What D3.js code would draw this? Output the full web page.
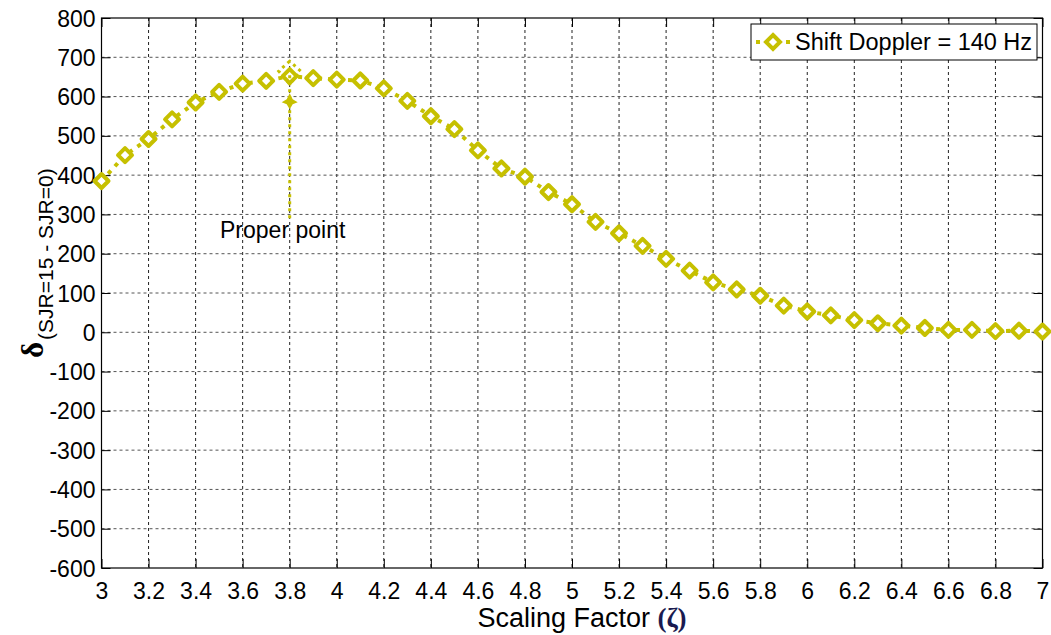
<!DOCTYPE html>
<html>
<head>
<meta charset="utf-8">
<script src="https://cdn.jsdelivr.net/npm/d3@7/dist/d3.min.js"></script>
<style>
  html, body { margin: 0; padding: 0; background: #fff; }
  svg { display: block; font-family: Arial, "Liberation Sans", sans-serif; }
</style>
</head>
<body>
<svg id="chart" width="1051" height="635"></svg>
<script>
// Scaling factor samples and the measured delta for a 140 Hz Doppler shift
const scalingFactor = [3.0, 3.1, 3.2, 3.3, 3.4, 3.5, 3.6, 3.7, 3.8, 3.9,
                       4.0, 4.1, 4.2, 4.3, 4.4, 4.5, 4.6, 4.7, 4.8, 4.9,
                       5.0, 5.1, 5.2, 5.3, 5.4, 5.5, 5.6, 5.7, 5.8, 5.9,
                       6.0, 6.1, 6.2, 6.3, 6.4, 6.5, 6.6, 6.7, 6.8, 6.9, 7.0];
const deltaValues   = [385, 451, 492, 542, 585, 612, 633, 640, 652, 647,
                       643, 641, 621, 589, 550, 517, 463, 417, 396, 357,
                       326, 281, 252, 220, 187, 157, 127, 109, 93, 68,
                       53, 43, 31, 23, 17, 11, 6, 6, 3, 4, 2];
const seriesName = "Shift Doppler = 140 Hz";

const xTicks = [3, 3.2, 3.4, 3.6, 3.8, 4, 4.2, 4.4, 4.6, 4.8, 5, 5.2, 5.4, 5.6, 5.8, 6, 6.2, 6.4, 6.6, 6.8, 7];
const yTicks = [-600, -500, -400, -300, -200, -100, 0, 100, 200, 300, 400, 500, 600, 700, 800];

// Annotation: arrow from the label up to the chosen point
const properX = 3.8;
const arrowFrom = 290;
const arrowTo = 690;
const arrowLabel = "Proper point";

const color = "#c6c000";
const svg = d3.select("#chart");
const m = { left: 101.5, right: 1042.5, top: 18, bottom: 568 };

const x = d3.scaleLinear().domain([3, 7]).range([m.left, m.right]);
const y = d3.scaleLinear().domain([-600, 800]).range([m.bottom, m.top]);

// Grid
const grid = svg.append("g");
grid.selectAll("line.v").data(xTicks.slice(1, -1)).join("line")
  .attr("x1", d => x(d)).attr("x2", d => x(d))
  .attr("y1", m.top).attr("y2", m.bottom)
  .attr("stroke", "#222").attr("stroke-width", 1).attr("stroke-dasharray", "3,3");
grid.selectAll("line.h").data(yTicks.slice(1, -1)).join("line")
  .attr("y1", d => y(d)).attr("y2", d => y(d))
  .attr("x1", m.left).attr("x2", m.right)
  .attr("stroke", "#555").attr("stroke-width", 1).attr("stroke-dasharray", "3,3");

// Axes with inward ticks on all sides
const tickLen = 9;
const fmt = d => String(d);
const axB = svg.append("g").attr("transform", `translate(0,${m.bottom})`)
  .call(d3.axisBottom(x).tickValues(xTicks).tickFormat(fmt).tickSizeInner(-tickLen).tickSizeOuter(0).tickPadding(15));
const axT = svg.append("g").attr("transform", `translate(0,${m.top})`)
  .call(d3.axisTop(x).tickValues(xTicks).tickFormat("").tickSizeInner(-tickLen).tickSizeOuter(0));
const axL = svg.append("g").attr("transform", `translate(${m.left},0)`)
  .call(d3.axisLeft(y).tickValues(yTicks).tickFormat(fmt).tickSizeInner(-tickLen).tickSizeOuter(0).tickPadding(6));
const axR = svg.append("g").attr("transform", `translate(${m.right},0)`)
  .call(d3.axisRight(y).tickValues(yTicks).tickFormat("").tickSizeInner(-tickLen).tickSizeOuter(0));
[axB, axT, axL, axR].forEach(a => {
  a.select(".domain").remove();
  a.selectAll(".tick line").attr("stroke", "#000");
  a.selectAll("text").attr("font-size", 23).attr("fill", "#000")
    .attr("font-family", "Arial, 'Liberation Sans', sans-serif");
});
axB.selectAll("text").attr("dy", "0.71em");
axL.selectAll("text").attr("dy", "0.35em");

// Plot box
svg.append("rect").attr("x", m.left).attr("y", m.top)
  .attr("width", m.right - m.left).attr("height", m.bottom - m.top)
  .attr("fill", "none").attr("stroke", "#000").attr("stroke-width", 1.2);

// Series line
const pts = scalingFactor.map((v, i) => [v, deltaValues[i]]);
svg.append("path").datum(pts)
  .attr("fill", "none").attr("stroke", color).attr("stroke-width", 4)
  .attr("stroke-dasharray", "4,6")
  .attr("d", d3.line().x(d => x(d[0])).y(d => y(d[1])));

// Diamond markers
const diamond = (cx, cy, r) => `M${cx},${cy - r}L${cx + r},${cy}L${cx},${cy + r}L${cx - r},${cy}Z`;
svg.append("g").selectAll("path").data(pts).join("path")
  .attr("d", d => diamond(x(d[0]), y(d[1]), 7))
  .attr("fill", "#fff").attr("stroke", color).attr("stroke-width", 4)
  .attr("stroke-linejoin", "round");

// Proper point annotation
const ax = x(properX);
const ann = svg.append("g").attr("stroke", color).attr("fill", "none")
  .attr("stroke-width", 3).attr("stroke-dasharray", "3,4");
ann.append("line").attr("x1", ax).attr("x2", ax)
  .attr("y1", y(arrowFrom)).attr("y2", y(arrowTo) + 8);
const tipY = y(arrowTo);
ann.append("path")
  .attr("d", `M${ax},${tipY}L${ax - 11},${tipY + 10}L${ax},${tipY + 23}L${ax + 11},${tipY + 10}Z`);
ann.append("path").attr("stroke", "none").attr("fill", color)
  .attr("d", `M${ax},${tipY + 32}L${ax + 3},${tipY + 38}L${ax + 8},${tipY + 41}L${ax + 3},${tipY + 43}L${ax},${tipY + 48}L${ax - 3},${tipY + 43}L${ax - 8},${tipY + 41}L${ax - 3},${tipY + 38}Z`);
svg.append("text").attr("x", ax - 7).attr("y", y(arrowFrom) + 20)
  .attr("text-anchor", "middle").attr("font-size", 23).attr("fill", "#000")
  .text(arrowLabel);

// Legend
const lg = svg.append("g");
lg.append("rect").attr("x", 751).attr("y", 24).attr("width", 286).attr("height", 36)
  .attr("fill", "#fff").attr("stroke", "#000").attr("stroke-width", 1);
lg.append("line").attr("x1", 756).attr("x2", 790).attr("y1", 42).attr("y2", 42)
  .attr("stroke", color).attr("stroke-width", 4).attr("stroke-dasharray", "4,6");
lg.append("path").attr("d", diamond(773, 42, 7))
  .attr("fill", "#fff").attr("stroke", color).attr("stroke-width", 4);
lg.append("text").attr("x", 795).attr("y", 50).attr("font-size", 23.5).attr("fill", "#000")
  .text(seriesName);

// Axis titles
const xt = svg.append("text").attr("x", 582).attr("y", 627).attr("text-anchor", "middle")
  .attr("font-size", 27).attr("fill", "#000");
xt.append("tspan").text("Scaling Factor ");
xt.append("tspan").attr("font-family", "'Liberation Serif', 'DejaVu Serif', serif")
  .attr("font-weight", "bold").attr("fill", "#1a1a50").text("(ζ)");

const yt = svg.append("text").attr("transform", "translate(43,358) rotate(-90)")
  .attr("text-anchor", "start").attr("fill", "#000");
yt.append("tspan").attr("font-size", 31).attr("font-weight", "bold")
  .attr("font-family", "'Liberation Serif', 'DejaVu Serif', serif").text("δ");
yt.append("tspan").attr("font-size", 21).attr("dy", 10).attr("dx", 2).text("(SJR=15 - SJR=0)");
</script>
</body>
</html>
